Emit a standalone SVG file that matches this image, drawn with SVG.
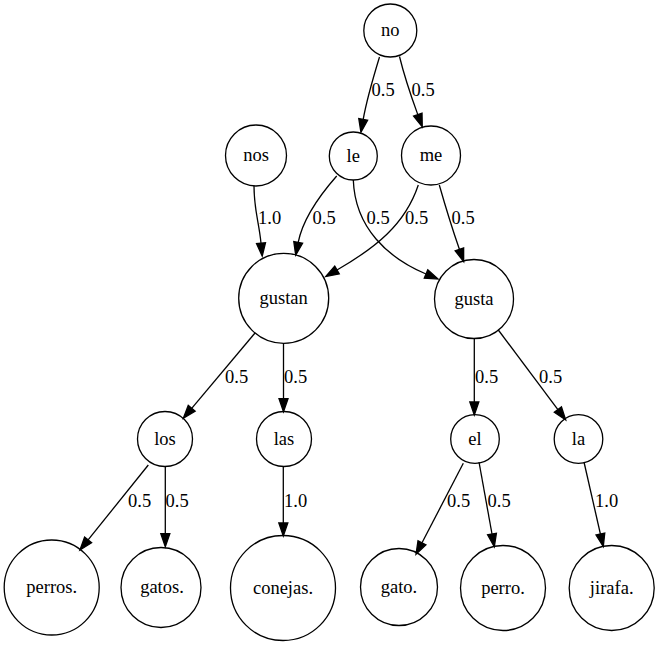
<svg xmlns="http://www.w3.org/2000/svg" width="660" height="647" viewBox="0 0 660 647">
<defs>
<marker id="ah" markerUnits="userSpaceOnUse" markerWidth="13" markerHeight="9" refX="0" refY="4.5" orient="auto" overflow="visible">
<polygon points="0,0 13,4.5 0,9" fill="#000" stroke="#000" stroke-width="1.3"/>
</marker>
</defs>
<rect width="660" height="647" fill="#fff"/>
<g id="edges" fill="none" stroke="#000" stroke-width="1.3" marker-end="url(#ah)">
<path d="M379.5,57 C374,75 367,98 363.2,119.4"/>
<path d="M399.5,56.5 C404,75 411,96 417.8,114.6"/>
<path d="M254,186 C254,210 259,222 261,243.2"/>
<path d="M336.7,176 C320,195 303,218 298.2,242.4"/>
<path d="M353.3,180 C355,228 388,258 426,274"/>
<path d="M418.3,185 C405,225 375,248 337,270"/>
<path d="M439.3,185 C445,205 452,228 459.4,249.3"/>
<path d="M255,333 L191.7,408.3"/>
<path d="M283.5,343.3 L283.5,398.7"/>
<path d="M474.3,339 L474.3,402"/>
<path d="M498.3,330 L557.9,409.6"/>
<path d="M148.3,465 L88.1,539.9"/>
<path d="M165.3,467 L165.3,533.7"/>
<path d="M283.3,466.5 L283.3,523"/>
<path d="M463.3,463.3 L422,542.8"/>
<path d="M479,462 L492,534"/>
<path d="M584,462 L600.4,534"/>
</g>
<g id="edge-labels" fill="#000">
<text x="371.5" y="96" font-size="18.5" font-family="Liberation Serif">0.5</text>
<text x="411.5" y="96" font-size="18.5" font-family="Liberation Serif">0.5</text>
<text x="258" y="224" font-size="18.5" font-family="Liberation Serif">1.0</text>
<text x="312.5" y="224" font-size="18.5" font-family="Liberation Serif">0.5</text>
<text x="366.5" y="224" font-size="18.5" font-family="Liberation Serif">0.5</text>
<text x="405" y="224" font-size="18.5" font-family="Liberation Serif">0.5</text>
<text x="451.5" y="224" font-size="18.5" font-family="Liberation Serif">0.5</text>
<text x="225" y="383" font-size="18.5" font-family="Liberation Serif">0.5</text>
<text x="284" y="383" font-size="18.5" font-family="Liberation Serif">0.5</text>
<text x="475" y="383" font-size="18.5" font-family="Liberation Serif">0.5</text>
<text x="539" y="383" font-size="18.5" font-family="Liberation Serif">0.5</text>
<text x="128" y="507" font-size="18.5" font-family="Liberation Serif">0.5</text>
<text x="165.5" y="507" font-size="18.5" font-family="Liberation Serif">0.5</text>
<text x="284" y="507" font-size="18.5" font-family="Liberation Serif">1.0</text>
<text x="447" y="507" font-size="18.5" font-family="Liberation Serif">0.5</text>
<text x="487.5" y="507" font-size="18.5" font-family="Liberation Serif">0.5</text>
<text x="595" y="507" font-size="18.5" font-family="Liberation Serif">1.0</text>
</g>
<g id="no"><circle cx="390.3" cy="30.5" r="26.5" fill="none" stroke="#000" stroke-width="1.3"/><text x="390.3" y="36" font-size="18.5" font-family="Liberation Serif" text-anchor="middle">no</text></g>
<g id="le"><circle cx="353.3" cy="156" r="24" fill="none" stroke="#000" stroke-width="1.3"/><text x="353.3" y="161.5" font-size="18.5" font-family="Liberation Serif" text-anchor="middle">le</text></g>
<g id="me"><circle cx="431" cy="155.5" r="29.5" fill="none" stroke="#000" stroke-width="1.3"/><text x="431" y="161" font-size="18.5" font-family="Liberation Serif" text-anchor="middle">me</text></g>
<g id="nos"><circle cx="256" cy="155.5" r="30.5" fill="none" stroke="#000" stroke-width="1.3"/><text x="256" y="161" font-size="18.5" font-family="Liberation Serif" text-anchor="middle">nos</text></g>
<g id="gustan"><circle cx="283.7" cy="298.3" r="45" fill="none" stroke="#000" stroke-width="1.3"/><text x="283.7" y="303.8" font-size="18.5" font-family="Liberation Serif" text-anchor="middle">gustan</text></g>
<g id="gusta"><circle cx="474" cy="299" r="39.5" fill="none" stroke="#000" stroke-width="1.3"/><text x="474" y="304.5" font-size="18.5" font-family="Liberation Serif" text-anchor="middle">gusta</text></g>
<g id="los"><circle cx="165" cy="439" r="27.5" fill="none" stroke="#000" stroke-width="1.3"/><text x="165" y="444.5" font-size="18.5" font-family="Liberation Serif" text-anchor="middle">los</text></g>
<g id="las"><circle cx="284" cy="439" r="27.5" fill="none" stroke="#000" stroke-width="1.3"/><text x="284" y="444.5" font-size="18.5" font-family="Liberation Serif" text-anchor="middle">las</text></g>
<g id="el"><circle cx="475" cy="439" r="24.3" fill="none" stroke="#000" stroke-width="1.3"/><text x="475" y="444.5" font-size="18.5" font-family="Liberation Serif" text-anchor="middle">el</text></g>
<g id="la"><circle cx="578.5" cy="439" r="24.3" fill="none" stroke="#000" stroke-width="1.3"/><text x="578.5" y="444.5" font-size="18.5" font-family="Liberation Serif" text-anchor="middle">la</text></g>
<g id="perros"><circle cx="51.7" cy="587.5" r="47.5" fill="none" stroke="#000" stroke-width="1.3"/><text x="51.7" y="593" font-size="18.5" font-family="Liberation Serif" text-anchor="middle">perros.</text></g>
<g id="gatos"><circle cx="161" cy="587.5" r="40" fill="none" stroke="#000" stroke-width="1.3"/><text x="162" y="593" font-size="18.5" font-family="Liberation Serif" text-anchor="middle">gatos.</text></g>
<g id="conejas"><circle cx="283" cy="588" r="52.5" fill="none" stroke="#000" stroke-width="1.3"/><text x="283" y="593.5" font-size="18.5" font-family="Liberation Serif" text-anchor="middle">conejas.</text></g>
<g id="gato"><circle cx="399" cy="587" r="38.5" fill="none" stroke="#000" stroke-width="1.3"/><text x="399" y="592.5" font-size="18.5" font-family="Liberation Serif" text-anchor="middle">gato.</text></g>
<g id="perro"><circle cx="503" cy="588" r="42.5" fill="none" stroke="#000" stroke-width="1.3"/><text x="503" y="593.5" font-size="18.5" font-family="Liberation Serif" text-anchor="middle">perro.</text></g>
<g id="jirafa"><circle cx="611.7" cy="588" r="42.5" fill="none" stroke="#000" stroke-width="1.3"/><text x="611.7" y="593.5" font-size="18.5" font-family="Liberation Serif" text-anchor="middle">jirafa.</text></g>
</svg>
